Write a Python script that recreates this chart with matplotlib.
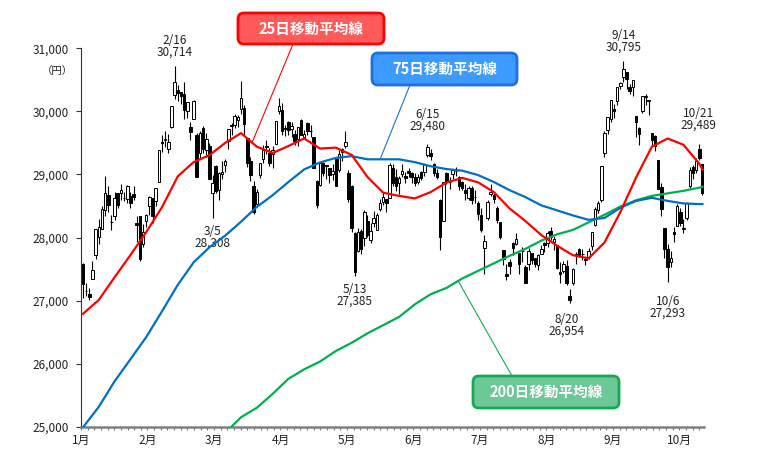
import numpy as np
import matplotlib
matplotlib.use("Agg")
import matplotlib.pyplot as plt
from matplotlib.patches import FancyBboxPatch
from matplotlib.transforms import IdentityTransform

plt.rcParams['font.family'] = ['Noto Sans CJK JP', 'DejaVu Sans']

# ---- daily candles (trading days, 2021/1/4 - 10/21) ----
dates = ["1/4", "1/5", "1/6", "1/7", "1/8", "1/12", "1/13", "1/14", "1/15", "1/18", "1/19", "1/20",
         "1/21", "1/22", "1/25", "1/26", "1/27", "1/28", "1/29",
         "2/1", "2/2", "2/3", "2/4", "2/5", "2/8", "2/9", "2/10", "2/12", "2/15", "2/16", "2/17",
         "2/18", "2/19", "2/22", "2/24", "2/25", "2/26",
         "3/1", "3/2", "3/3", "3/4", "3/5", "3/8", "3/9", "3/10", "3/11", "3/12", "3/15", "3/16",
         "3/17", "3/18", "3/19", "3/22", "3/23", "3/24", "3/25", "3/26", "3/29", "3/30", "3/31",
         "4/1", "4/2", "4/5", "4/6", "4/7", "4/8", "4/9", "4/12", "4/13", "4/14", "4/15", "4/16",
         "4/19", "4/20", "4/21", "4/22", "4/23", "4/26", "4/27", "4/28", "4/30",
         "5/6", "5/7", "5/10", "5/11", "5/12", "5/13", "5/14", "5/17", "5/18", "5/19", "5/20",
         "5/21", "5/24", "5/25", "5/26", "5/27", "5/28", "5/31",
         "6/1", "6/2", "6/3", "6/4", "6/7", "6/8", "6/9", "6/10", "6/11", "6/14", "6/15", "6/16",
         "6/17", "6/18", "6/21", "6/22", "6/23", "6/24", "6/25", "6/28", "6/29", "6/30",
         "7/1", "7/2", "7/5", "7/6", "7/7", "7/8", "7/9", "7/12", "7/13", "7/14", "7/15", "7/16",
         "7/19", "7/20", "7/21", "7/26", "7/27", "7/28", "7/29", "7/30",
         "8/2", "8/3", "8/4", "8/5", "8/6", "8/10", "8/11", "8/12", "8/13", "8/16", "8/17", "8/18",
         "8/19", "8/20", "8/23", "8/24", "8/25", "8/26", "8/27", "8/30", "8/31",
         "9/1", "9/2", "9/3", "9/6", "9/7", "9/8", "9/9", "9/10", "9/13", "9/14", "9/15", "9/16",
         "9/17", "9/21", "9/22", "9/24", "9/27", "9/28", "9/29", "9/30",
         "10/1", "10/4", "10/5", "10/6", "10/7", "10/8", "10/11", "10/12", "10/13", "10/14",
         "10/15", "10/18", "10/19", "10/20", "10/21"]

opens = [27575, 27151, 27102, 27340, 27720, 28004, 28140, 28442, 28667, 28238, 28336, 28710,
         28710, 28631, 28616, 28657, 28690, 28230, 28338,
         27892, 28255, 28501, 28627, 28577, 28883, 29512, 29546, 29402, 29747, 30266, 30332,
         30312, 30270, 30008, 29753, 29879, 29630,
         29332, 29740, 29380, 29454, 28706, 29126, 28755, 29000, 29142, 29531, 29790, 29790,
         29866, 30033, 30048, 29579, 29218, 28817, 28532, 28984, 29246, 29446, 29345,
         29319, 29483, 29998, 30023, 29713, 29838, 29716, 29645, 29565, 29862, 29590, 29820,
         29683, 29589, 28898, 28831, 29178, 29148, 29103, 29004, 29247,
         29077, 29397, 29452, 29018, 28818, 28069, 27780, 28102, 27985, 28259, 27963,
         28233, 28126, 28446, 28561, 28606, 28622, 29107,
         28957, 28858, 29000, 28981, 29052, 29015, 28953, 28881, 29034, 29045, 29313, 29344,
         29171, 29027, 28596, 28265, 29016, 28877, 29003, 29056, 28958, 28882,
         28758, 28627, 28791, 28640, 28547, 28351, 27829, 28313, 28693, 28679, 28460, 28238,
         27802, 27417, 27607, 27908, 27904, 27755, 27785, 27533,
         27573, 27749, 27669, 27560, 27744, 27914, 27905, 28109, 27921, 27882, 27448, 27461,
         27548, 27068, 27276, 27729, 27817, 27741, 27662, 27692, 27861,
         28201, 28442, 28600, 29344, 29708, 29873, 30030, 30172, 30402, 30537, 30625, 30390,
         30385, 29926, 29733, 30001, 30233, 30170, 29650, 29611,
         29235, 28800, 28155, 27821, 27610, 28089, 28178, 28400, 28145, 28302,
         28810, 29110, 29077, 29400, 29160]

highs = [27602, 27279, 27196, 27624, 28139, 28287, 28503, 28979, 28820, 28349, 28720, 28711,
         28846, 28729, 28840, 28722, 28820, 28336, 28338,
         28220, 28378, 28662, 28627, 28779, 29388, 29626, 29684, 29638, 30084, 30714, 30413,
         30312, 30467, 30156, 29835, 30178, 29658,
         29685, 29769, 29659, 29499, 28986, 29148, 29035, 29213, 29240, 29717, 29811, 29951,
         29950, 30485, 30100, 29579, 29270, 28895, 28765, 29176, 29461, 29541, 29418,
         29445, 29854, 30208, 30129, 29778, 29840, 29825, 29705, 29751, 29883, 29700, 29838,
         29778, 29589, 28904, 29188, 29191, 29150, 29109, 29164, 29270,
         29387, 29426, 29685, 29073, 28829, 28083, 28147, 28133, 28431, 28351, 28232,
         28418, 28390, 28616, 28722, 28606, 29176, 29160,
         29082, 28972, 29164, 29041, 29106, 29037, 29024, 29003, 29057, 29164, 29480, 29396,
         29175, 29081, 28612, 28884, 29040, 28956, 29067, 29118, 28974, 28900,
         28845, 28813, 28814, 28760, 28586, 28460, 28044, 28590, 28852, 28715, 28496, 28243,
         27808, 27587, 27662, 27929, 28071, 27761, 27845, 27565,
         27835, 27755, 27680, 27735, 27881, 27934, 28104, 28169, 28020, 27882, 27604, 27635,
         27637, 27186, 27514, 27776, 27830, 27811, 27696, 27841, 28089,
         28485, 28571, 29128, 29684, 29916, 30185, 30117, 30385, 30468, 30795, 30626, 30430,
         30500, 29926, 29756, 30248, 30279, 30181, 29650, 29627,
         29235, 28870, 28155, 27891, 27780, 28160, 28528, 28463, 28300, 28569,
         29123, 29144, 29256, 29489, 29160]

lows = [27042, 27073, 27002, 27340, 27667, 27899, 28140, 28347, 28403, 28111, 28280, 28467,
        28591, 28583, 28543, 28474, 28600, 27932, 27629,
        27856, 28167, 28364, 28233, 28501, 28877, 29361, 29432, 29336, 29741, 30192, 30160,
        30119, 29880, 29888, 29542, 29879, 28966,
        29237, 29342, 29271, 28922, 28308, 28708, 28595, 28926, 29044, 29400, 29620, 29733,
        29750, 29953, 29629, 29112, 28890, 28379, 28518, 28940, 29184, 29330, 29141,
        29108, 29483, 29961, 29630, 29603, 29627, 29587, 29465, 29455, 29620, 29570, 29618,
        29590, 29100, 28471, 28813, 28980, 28930, 28860, 28918, 28812,
        29034, 29217, 29415, 28570, 28086, 27385, 27765, 27744, 27861, 28009, 27907,
        28172, 28113, 28419, 28515, 28403, 28622, 28812,
        28734, 28697, 28958, 28868, 28962, 28860, 28817, 28850, 28908, 28980, 29278, 29230,
        28980, 28930, 27795, 28265, 28846, 28776, 28927, 28980, 28757, 28751,
        28596, 28588, 28529, 28550, 28281, 28085, 27419, 28276, 28661, 28548, 28237, 27984,
        27569, 27330, 27419, 27726, 27874, 27419, 27619, 27272,
        27479, 27587, 27531, 27480, 27744, 27775, 27850, 27958, 27805, 27507, 27286, 27440,
        27239, 26954, 27248, 27580, 27684, 27640, 27563, 27657, 27808,
        28182, 28381, 28566, 29269, 29638, 29830, 29898, 30108, 30351, 30466, 30360, 30270,
        30245, 29590, 29464, 29973, 30100, 29950, 29460, 29375,
        28771, 28348, 27675, 27293, 27530, 27925, 28178, 28190, 28064, 28270,
        28790, 28931, 29024, 29226, 28680]

closes = [27258, 27158, 27055, 27490, 28139, 28164, 28456, 28698, 28519, 28242, 28633, 28523,
          28756, 28631, 28822, 28546, 28635, 28197, 27663,
          28091, 28362, 28646, 28341, 28779, 29388, 29505, 29562, 29520, 30084, 30467, 30292,
          30236, 30017, 30156, 29671, 30168, 28966,
          29663, 29408, 29559, 28930, 28864, 28743, 29027, 29036, 29211, 29717, 29766, 29921,
          29914, 30216, 29792, 29174, 28995, 28405, 28729, 29176, 29384, 29432, 29178,
          29388, 29854, 30089, 29696, 29730, 29708, 29768, 29538, 29751, 29620, 29642, 29683,
          29685, 29100, 28508, 29188, 29020, 29126, 28991, 29053, 28812,
          29331, 29357, 29518, 28608, 28147, 27448, 28084, 27824, 28406, 28044, 28098,
          28317, 28364, 28553, 28642, 28549, 29149, 28860,
          28814, 28946, 29058, 28941, 29019, 28963, 28860, 28958, 28948, 29161, 29441, 29291,
          29018, 28964, 28010, 28884, 28874, 28875, 29066, 29048, 28812, 28791,
          28707, 28783, 28598, 28643, 28366, 28118, 27940, 28569, 28718, 28608, 28279, 28003,
          27652, 27388, 27548, 27833, 27970, 27581, 27782, 27283,
          27781, 27641, 27584, 27728, 27820, 27888, 28070, 28015, 27977, 27523, 27424, 27585,
          27281, 27013, 27494, 27732, 27724, 27742, 27641, 27789, 28089,
          28451, 28543, 29128, 29659, 29916, 30181, 30008, 30381, 30447, 30670, 30511, 30323,
          30500, 29839, 29639, 30248, 30240, 30183, 29544, 29452,
          28771, 28444, 27822, 27528, 27678, 28048, 28498, 28230, 28140, 28550,
          29068, 29025, 29215, 29255, 28708]

# ---- moving averages, every 5th session from 1/4 (last = 10/21) ----
ma25 = [26790, 27010, 27370, 27720, 28085, 28480, 28970, 29195, 29305, 29500,
        29655, 29440, 29340, 29450, 29570, 29410, 29425, 29310, 28960, 28710,
        28660, 28620, 28720, 28870, 28945, 28875, 28720, 28460, 28260, 28040,
        27870, 27720, 27670, 27920, 28400, 28950, 29440, 29570, 29470, 29170, 29080]
ma75 = [24990, 25315, 25720, 26068, 26420, 26830, 27250, 27605, 27845, 28030,
        28250, 28485, 28670, 28880, 29080, 29190, 29262, 29290, 29240, 29240,
        29240, 29195, 29130, 29085, 29060, 28990, 28880, 28750, 28640, 28510,
        28430, 28350, 28280, 28310, 28470, 28580, 28630, 28580, 28540, 28530, 28530]
# 200-day line enters the chart around the 45th session
ma200 = [24900, 25150, 25300, 25520, 25760, 25910, 26033, 26200, 26330, 26480,
         26610, 26740, 26940, 27100, 27200, 27350, 27470, 27590, 27710, 27820,
         27950, 28050, 28120, 28240, 28360, 28490, 28590, 28660, 28700, 28740,
         28790, 28806]

months = ["1月", "2月", "3月", "4月", "5月", "6月", "7月", "8月", "9月", "10月"]

# high / low callouts: date, value, above?
marks = [("2/16", 30714, True), ("3/5", 28308, False), ("5/13", 27385, False),
         ("6/15", 29480, True), ("8/20", 26954, False), ("9/14", 30795, True),
         ("10/6", 27293, False), ("10/21", 29489, True)]

W, H = 760, 475
fig = plt.figure(figsize=(W / 100, H / 100), dpi=100)
ax = fig.add_axes([81 / W, 1 - 426.7 / H, (704 - 81) / W, (426.7 - 48.3) / H])

n = len(dates)
x = np.arange(n)
o = np.array(opens)
c = np.array(closes)
hi = np.array(highs)
lo = np.array(lows)
up = c >= o

# candles
ax.vlines(x, lo, hi, color="black", lw=0.8, zorder=2)
bw = 0.8
ax.bar(x[up], (c - o)[up], bottom=o[up], width=bw, color="white",
       edgecolor="black", linewidth=0.7, zorder=3)
ax.bar(x[~up], (o - c)[~up], bottom=c[~up], width=bw, color="black",
       edgecolor="black", linewidth=0.7, zorder=3)

# moving averages
xm = np.r_[np.arange(0, n - 1, 5), n - 1]
xm200 = np.r_[np.arange(45, n - 1, 5), n - 1]
ax.plot(xm200, ma200, color="#00b050", lw=1.6, zorder=4)
ax.plot(xm, ma75, color="#0070c0", lw=1.6, zorder=4)
ax.plot(xm, ma25, color="#ff0000", lw=1.6, zorder=5)

ax.set_xlim(-0.63, 196.5)
ax.set_ylim(25000, 31000)

# axes styling
for s in ["top", "right"]:
    ax.spines[s].set_visible(False)
ax.spines["left"].set_color("#333333")
ax.spines["left"].set_linewidth(0.8)
ax.spines["bottom"].set_color("#808080")
ax.spines["bottom"].set_linewidth(1.8)

yt = np.arange(25000, 31001, 1000)
ax.set_yticks(yt)
ax.set_yticklabels([f"{v:,}" for v in yt], fontsize=8.5, color="#222222")
ax.tick_params(axis="y", length=3.5, width=0.8, color="#333333", pad=5)

mpos = -0.63 + 21.04 * np.arange(len(months))
ax.set_xticks(mpos)
ax.set_xticklabels(months, fontsize=8.5, color="#222222")
ax.set_xticks(np.arange(-0.63, 196.5, 2.104), minor=True)
ax.tick_params(axis="x", which="both", length=2.5, width=0.9, color="#808080", pad=3)

fig.text(57 / W, 1 - 71 / H, "（円）", fontsize=7.5, ha="center", va="center", color="#222222")

# high / low labels
for d, v, above in marks:
    i = dates.index(d)
    dx = -4 if d == "10/21" else 0
    if above:
        gap = 12 if d in ("6/15", "10/21") else 8
        ax.annotate(f"{d}\n{v:,}", xy=(i, v), xytext=(dx * 0.72, gap * 0.72),
                    textcoords="offset points", ha="center", va="bottom",
                    fontsize=8.5, linespacing=0.85, color="#222222")
    else:
        gap = {"3/5": 7, "5/13": 7, "8/20": 10, "10/6": 13}[d]
        ax.annotate(f"{d}\n{v:,}", xy=(i, v), xytext=(-3 * 0.72 if d == "8/20" else 0, -gap * 0.72),
                    textcoords="offset points", ha="center", va="top",
                    fontsize=8.5, linespacing=0.85, color="#222222")


# callout boxes with leader lines
def callout(text, box, face, edge, tip_x, xs, ys, anchor):
    x0, y0, x1, y1 = box
    p = FancyBboxPatch((x0, H - y1), x1 - x0, y1 - y0,
                       boxstyle="round,pad=0,rounding_size=6",
                       transform=IdentityTransform(), facecolor=face,
                       edgecolor=edge, linewidth=2, zorder=10)
    fig.patches.append(p)
    fig.text((x0 + x1) / 2 / W, 1 - (y0 + y1) / 2 / H, text, ha="center", va="center",
             fontsize=10.5, fontweight="bold", color="white", zorder=11)
    tip_y = np.interp(tip_x, xs, ys)
    ax.annotate("", xy=(tip_x, tip_y), xytext=(anchor[0], H - anchor[1]),
                textcoords="figure pixels",
                arrowprops=dict(arrowstyle="-", color=edge, lw=0.8,
                                shrinkA=0, shrinkB=0), zorder=6)


callout("25日移動平均線", (238, 13, 384, 44), "#ff5a5a", "#ff0000",
        53.5, xm, ma25, (293, 44))
callout("75日移動平均線", (372, 53, 517, 85), "#3d9bff", "#1e6fe0",
        94.0, xm, ma75, (410, 85))
callout("200日移動平均線", (473, 376, 619, 408), "#6cc896", "#14aa55",
        118.7, xm200, ma200, (512, 376))

fig.savefig("out.png", dpi=100)
